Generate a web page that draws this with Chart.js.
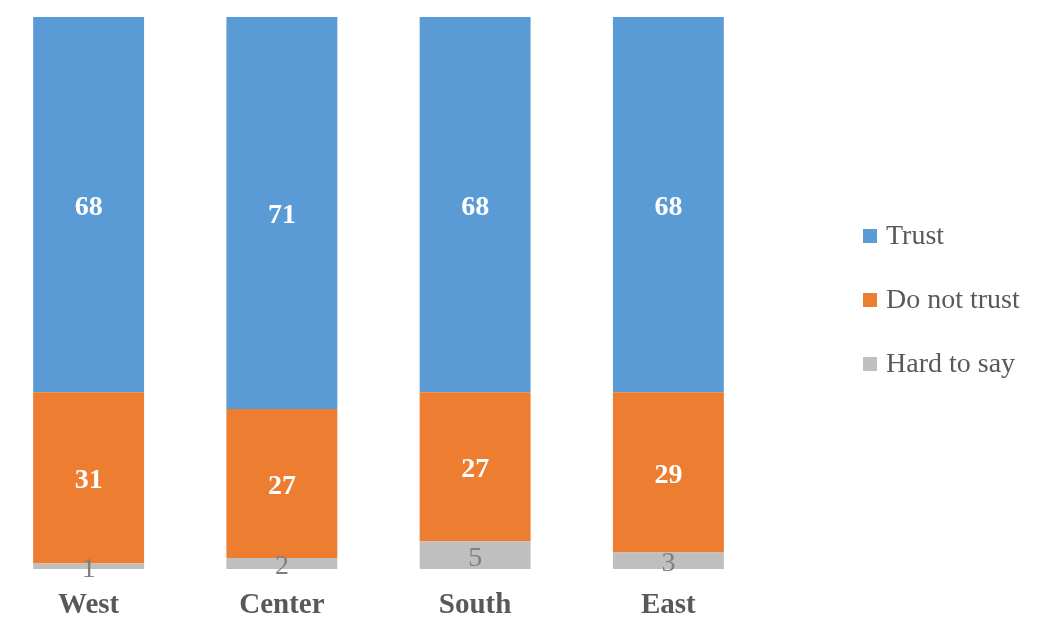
<!DOCTYPE html>
<html>
<head>
<meta charset="utf-8">
<script src="https://cdn.jsdelivr.net/npm/chart.js@4.4.1/dist/chart.umd.min.js"></script>
<style>
  html, body { margin: 0; padding: 0; background: #ffffff; overflow: hidden; }
  #wrap { position: absolute; left: -8px; top: 0; width: 1051px; height: 642px; }
</style>
</head>
<body>
<div id="wrap"><canvas id="c"></canvas></div>
<script>
const categories = ["West", "Center", "South", "East"];
const trustValues = [68, 71, 68, 68];
const doNotTrustValues = [31, 27, 27, 29];
const hardToSayValues = [1, 2, 5, 3];
const seriesNames = ["Trust", "Do not trust", "Hard to say"];

const serif = "'Liberation Serif', 'Times New Roman', serif";
const COLORS = { trust: "#5B9BD5", notTrust: "#ED7D31", hard: "#BFBFBF" };

const labelPlugin = {
  id: "segLabels",
  afterDatasetsDraw(chart) {
    const ctx = chart.ctx;
    ctx.save();
    ctx.textAlign = "center";
    ctx.textBaseline = "middle";
    chart.data.datasets.forEach((ds, di) => {
      const meta = chart.getDatasetMeta(di);
      meta.data.forEach((bar, i) => {
        const v = ds.data[i];
        const y = (bar.y + bar.base) / 2;
        if (ds.label === "Hard to say") {
          ctx.font = "normal 28px " + serif;
          ctx.fillStyle = "#7F7F7F";
        } else {
          ctx.font = "bold 28px " + serif;
          ctx.fillStyle = "#FFFFFF";
        }
        ctx.fillText(String(v), bar.x, y + 3);
      });
    });
    ctx.restore();
  }
};

const legendPlugin = {
  id: "customLegend",
  afterDraw(chart) {
    const ctx = chart.ctx;
    ctx.save();
    const order = [2, 1, 0];
    const x0 = 871, yStart = 236, step = 64, box = 14;
    ctx.font = "normal 28px " + serif;
    ctx.textBaseline = "middle";
    ctx.textAlign = "left";
    order.forEach((di, k) => {
      const ds = chart.data.datasets[di];
      const yc = yStart + k * step;
      ctx.fillStyle = ds.backgroundColor;
      ctx.fillRect(x0, yc - box / 2, box, box);
      ctx.fillStyle = "#595959";
      ctx.fillText(ds.label, x0 + 23, yc + 1);
    });
    ctx.restore();
  }
};

new Chart(document.getElementById("c"), {
  type: "bar",
  data: {
    labels: categories,
    datasets: [
      { label: seriesNames[2], data: hardToSayValues, backgroundColor: COLORS.hard },
      { label: seriesNames[1], data: doNotTrustValues, backgroundColor: COLORS.notTrust },
      { label: seriesNames[0], data: trustValues, backgroundColor: COLORS.trust }
    ]
  },
  options: {
    responsive: true,
    maintainAspectRatio: false,
    animation: false,
    layout: { padding: { top: 17, right: 278, left: 0, bottom: 0 } },
    datasets: { bar: { barPercentage: 0.574, categoryPercentage: 1.0, borderWidth: 0 } },
    plugins: { legend: { display: false }, tooltip: { enabled: false } },
    scales: {
      x: {
        stacked: true,
        grid: { display: false, drawTicks: false },
        border: { display: false },
        ticks: { color: "#595959", font: { family: serif, size: 29, weight: "bold" }, padding: 19 },
        afterFit(scale) { scale.height = 73; }
      },
      y: {
        stacked: true,
        display: false,
        min: 0,
        max: 100
      }
    }
  },
  plugins: [labelPlugin, legendPlugin]
});
</script>
</body>
</html>
